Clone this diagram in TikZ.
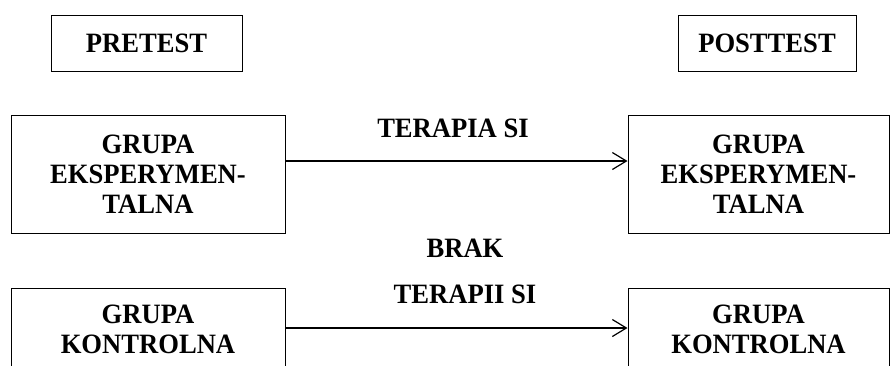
\documentclass[tikz,border=0pt]{standalone}
\usepackage{fontspec}
\setmainfont[FakeStretch=0.95]{Liberation Serif}
\usetikzlibrary{arrows.meta}
\begin{document}
\begin{tikzpicture}[x=1pt,y=-1pt,
  box/.style={draw, line width=1pt, rectangle, inner sep=0pt, align=center,
    font=\fontsize{28}{30}\selectfont\bfseries},
  lbl/.style={inner sep=0pt, font=\fontsize{28}{30}\selectfont\bfseries},
  arr/.style={line width=1.2pt, -{Straight Barb[length=14pt,width=17pt,line width=1.2pt]}}]
\useasboundingbox (0,0) rectangle (891,365);
\clip (0,0) rectangle (891,365);
\node[box, minimum width=191pt, minimum height=56pt] (pre) at (146.5,43) {PRETEST};
\node[box, minimum width=178pt, minimum height=56pt] (post) at (767,43) {POSTTEST};
\node[box, minimum width=274pt, minimum height=118pt] (ge1) at (148,174) {GRUPA\\EKSPERYMEN-\\TALNA};
\node[box, minimum width=261pt, minimum height=118pt] (ge2) at (758.5,174) {GRUPA\\EKSPERYMEN-\\TALNA};
\node[box, minimum width=274pt, minimum height=82pt] (gk1) at (148,329) {GRUPA\\KONTROLNA};
\node[box, minimum width=261pt, minimum height=82pt] (gk2) at (758.5,329) {GRUPA\\KONTROLNA};
\coordinate (y1) at (0,161);
\coordinate (y2) at (0,328);
\draw[arr] (ge1.east |- y1) -- (ge2.west |- y1);
\draw[arr] (gk1.east |- y2) -- (gk2.west |- y2);
\node[lbl] (t1) at (453,128) {TERAPIA SI};
\node[lbl] (t2) at (465,248) {BRAK};
\node[lbl] (t3) at (465,294) {TERAPII SI};
\end{tikzpicture}
\end{document}
